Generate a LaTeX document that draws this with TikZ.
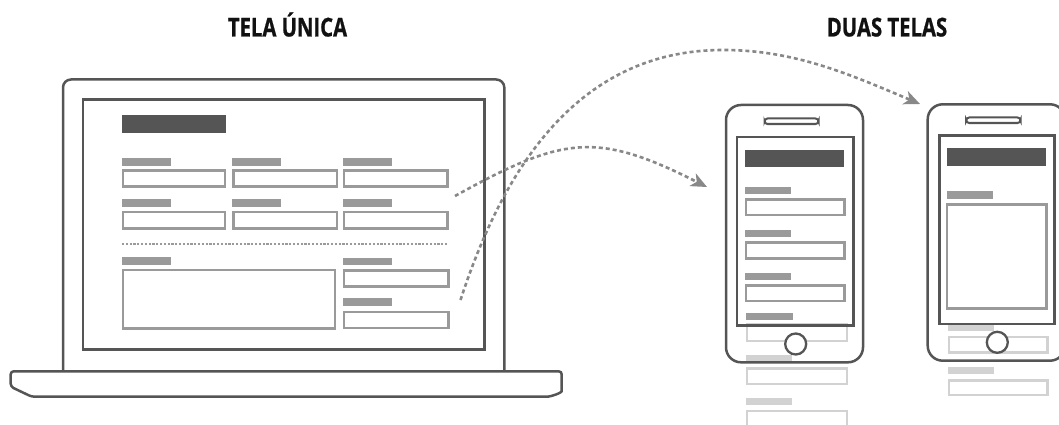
\documentclass[tikz,border=0pt]{standalone}
\usepackage{fontspec}
\newfontfamily\titlefont[FakeStretch=0.78, FakeBold=0.8]{Open Sans}
\usetikzlibrary{arrows.meta}

\definecolor{frameink}{HTML}{555555}
\definecolor{fieldink}{HTML}{9A9A9A}
\definecolor{fadeink}{HTML}{D2D2D2}
\definecolor{flowink}{HTML}{888888}
\definecolor{titleink}{HTML}{111111}

\tikzset{
  device/.style={draw=frameink, line width=2.5pt},
  headbar/.style={fill=frameink},
  fieldlabel/.style={fill=fieldink},
  fieldbox/.style={draw=fieldink, line width=2.4pt},
  fadelabel/.style={fill=fadeink},
  fadebox/.style={draw=fadeink, line width=2.4pt},
  divider/.style={draw=fieldink, line width=1.8pt, dash pattern=on 2.2pt off 1.6pt},
  flow/.style={draw=flowink, line width=2.6pt, dash pattern=on 4pt off 3pt,
    -{Stealth[length=16pt,width=14pt,inset=4.5pt]}},
  heading/.style={font=\titlefont\bfseries\fontsize{26}{30}\selectfont,
    text=titleink, anchor=base, inner sep=0pt},
}

\begin{document}
\begin{tikzpicture}[x=1pt, y=-1pt]
\clip (0,0) rectangle (1059,425);

% headings
\node[heading] (single) at (287.5,36.5) {TELA ÚNICA};
\node[heading] (double) at (887,36.5) {DUAS TELAS};

% ---------------- laptop ----------------
\draw[device, rounded corners=8pt] (63,371.3) -- (63,79.5) -- (504.3,79.5) -- (504.3,371.3);
\draw[device] (83,99.3) rectangle (484.3,349.3);
\draw[device, rounded corners=3pt] (561.7,388.3) .. controls (561.7,392.5) and (552,396.7) .. (543.3,396.7)
  -- (31.7,396.7) -- (10.7,386.7) -- (10.7,371.3) -- (561.7,371.3) -- cycle;

% form on the laptop screen
\fill[headbar] (121.7,115) rectangle (226,132.7);
\foreach \x/\w in {121.7/104, 232.3/105.4, 343/105.3}{
  \fill[fieldlabel] (\x,158.3) rectangle ++(49,7.7);
  \draw[fieldbox] (\x+1,170.3) rectangle ++(\w-2,16);
  \fill[fieldlabel] (\x,199.3) rectangle ++(49,7.4);
  \draw[fieldbox] (\x+1,212) rectangle ++(\w-2,16.3);
}
\draw[divider] (122,244) -- (448,244);
\fill[fieldlabel] (121.7,257.3) rectangle (170.7,264.7);
\draw[fieldbox] (122.7,269.7) rectangle (335,328.3);
\fill[fieldlabel] (343.3,257.7) rectangle (392.3,265);
\draw[fieldbox] (344,270.3) rectangle (448.3,286.3);
\fill[fieldlabel] (343.3,298.3) rectangle (392.3,306);
\draw[fieldbox] (344,311.7) rectangle (448.3,327.7);

% ---------------- first phone ----------------
% fields that continue below the visible screen
\draw[fadebox] (747,324.3) rectangle (846.7,340.7);
\fill[fadelabel] (746,355) rectangle (792,361.7);
\draw[fadebox] (747,368.3) rectangle (846.7,384);
\fill[fadelabel] (746,398.3) rectangle (792,405);
\draw[fadebox] (747,411) rectangle (846.7,440);

\draw[device, rounded corners=15pt] (726,105) rectangle (863,362.3);
\draw[device, line width=2pt, rounded corners=3pt] (764.5,118.5) rectangle (818.5,124);
\draw[device] (737,137) rectangle (853.3,325.7);

\fill[headbar] (745,150) rectangle (844.3,167.3);
\foreach \y in {186.7, 230, 272.7}{
  \fill[fieldlabel] (745,\y) rectangle ++(46,7.3);
  \draw[fieldbox] (746,\y+12.6) rectangle ++(98.3,15.7);
}
\fill[fieldlabel] (746,312.7) rectangle (792.7,320);
\draw[device, line width=2.3pt, fill=white] (795.7,344) circle (10.5);

% ---------------- second phone ----------------
\fill[fadelabel] (947.7,324) rectangle (994.3,331);
\draw[fadebox] (948.7,336.7) rectangle (1047.3,352.3);
\fill[fadelabel] (947.7,366.7) rectangle (994.3,374.3);
\draw[fadebox] (948.7,380.3) rectangle (1047.3,394.7);

\draw[device, rounded corners=15pt] (927.7,104.3) rectangle (1065,360.7);
\draw[device, line width=2pt, rounded corners=3pt] (966.2,117.5) rectangle (1020.5,123);
\draw[device] (939.3,135.3) rectangle (1054.7,324);

\fill[headbar] (946.7,148.3) rectangle (1046,166);
\fill[fieldlabel] (946.7,191) rectangle (992.7,199);
\draw[fieldbox] (947,204.3) rectangle (1046.3,308.3);
\draw[device, line width=2.3pt, fill=white] (997.3,342.3) circle (10.5);

% ---------------- flow arrows ----------------
\coordinate (topform) at (455,196);
\coordinate (firstphone) at (707,187);
\coordinate (bottomform) at (460.5,300);
\coordinate (arcpeak) at (723,50);
\coordinate (secondphone) at (920,104);

\draw[flow] (topform) .. controls (563.5,135.9) and (596.6,131.2) .. (firstphone);
\draw[flow] (bottomform) .. controls (503.9,167) and (578.6,50) .. (arcpeak)
  .. controls (793,50) and (846.4,72.8) .. (secondphone);
\end{tikzpicture}
\end{document}
